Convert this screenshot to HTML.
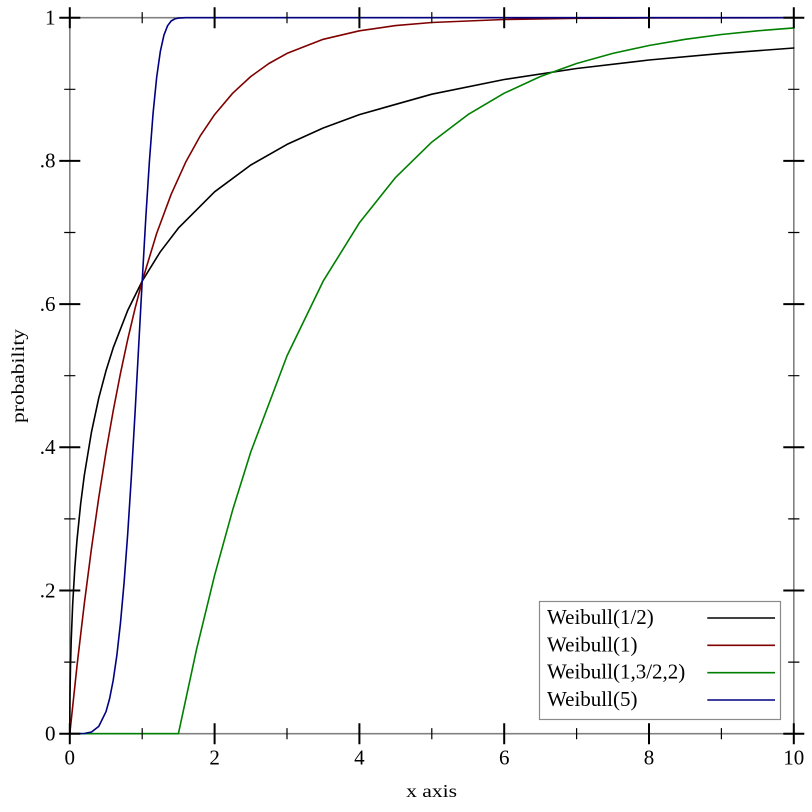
<!DOCTYPE html>
<html>
<head>
<meta charset="utf-8">
<style>
  html, body { margin: 0; padding: 0; background: #fff; }
  svg { display: block; }
  text { font-family: "Liberation Serif", "Times New Roman", serif; fill: #000; }
</style>
</head>
<body>
<svg width="812" height="812" viewBox="0 0 812 812" xmlns="http://www.w3.org/2000/svg">
  <rect x="0" y="0" width="812" height="812" fill="#ffffff"/>
  <!-- frame -->
  <rect x="69.8" y="17.7" width="724" height="716" fill="none" stroke="#808080" stroke-width="1.6"/>

  <!-- curves -->
  <g fill="none" stroke-width="1.6" stroke-linejoin="round" stroke-linecap="round">
    <!-- Weibull(1/2) -->
    <path stroke="#000000" d="M69.8,733.7 L69.87,711.4 L69.98,698.8 L70.16,684.8 L70.52,665.5 L71.25,639.3 L72.70,603.9 L74.87,567.2 L77.04,539.6 L80.66,503.8 L84.28,475.5 L91.52,431.8 L98.76,398.1 L106.0,370.8 L113.24,347.7 L127.72,310.4 L142.2,281.1 L160.3,251.8 L178.4,228.1 L214.6,191.8 L250.8,165.0 L287.0,144.4 L323.2,128.0 L359.4,114.6 L431.8,94.2 L504.2,79.5 L576.6,68.5 L649.0,60.0 L721.4,53.4 L793.8,48.0"/>
    <!-- Weibull(1) -->
    <path stroke="#800000" d="M69.8,733.7 L77.04,665.5 L84.28,603.9 L91.52,548.1 L98.76,497.6 L106.0,451.9 L113.24,410.6 L120.48,373.3 L127.72,339.4 L134.96,308.8 L142.2,281.1 L156.68,233.4 L171.16,194.3 L185.64,162.3 L200.12,136.1 L214.6,114.6 L232.7,93.2 L250.8,76.5 L268.9,63.5 L287.0,53.4 L323.2,39.3 L359.4,30.8 L395.6,25.6 L431.8,22.5 L504.2,19.5 L576.6,18.35 L649.0,17.94 L793.8,17.73"/>
    <!-- Weibull(1,3/2,2) -->
    <path stroke="#008000" d="M69.8,733.7 L178.4,733.7 L196.5,649.6 L214.6,575.3 L232.7,509.8 L250.8,451.9 L287.0,355.9 L323.2,281.1 L359.4,222.8 L395.6,177.4 L431.8,142.1 L468.0,114.6 L504.2,93.2 L540.4,76.5 L576.6,63.5 L612.8,53.4 L649.0,45.5 L685.2,39.3 L721.4,34.5 L757.6,30.8 L793.8,27.9"/>
    <!-- Weibull(5) -->
    <path stroke="#000080" d="M69.8,733.7 L84.28,733.5 L91.52,732.0 L98.76,726.4 L106.0,711.7 L109.62,698.6 L113.24,680.1 L116.86,655.3 L120.48,622.9 L124.1,582.5 L127.72,533.7 L131.34,477.1 L134.96,414.4 L138.58,348.0 L142.2,281.1 L145.82,217.5 L149.44,160.8 L153.06,113.5 L156.68,77.2 L160.3,51.6 L163.92,35.2 L167.54,25.8 L171.16,21.0 L174.78,18.9 L178.4,18.1 L185.64,17.7 L793.8,17.7"/>
  </g>

  <!-- major ticks -->
  <path stroke="#000" stroke-width="2" fill="none" d="
    M69.8,723.2 V744.2 M214.6,723.2 V744.2 M359.4,723.2 V744.2 M504.2,723.2 V744.2 M649.0,723.2 V744.2 M793.8,723.2 V744.2
    M69.8,7.2 V28.2 M214.6,7.2 V28.2 M359.4,7.2 V28.2 M504.2,7.2 V28.2 M649.0,7.2 V28.2 M793.8,7.2 V28.2
    M59.3,733.7 H80.3 M59.3,590.5 H80.3 M59.3,447.3 H80.3 M59.3,304.1 H80.3 M59.3,160.9 H80.3 M59.3,17.7 H80.3
    M783.3,733.7 H804.3 M783.3,590.5 H804.3 M783.3,447.3 H804.3 M783.3,304.1 H804.3 M783.3,160.9 H804.3 M783.3,17.7 H804.3"/>
  <!-- minor ticks -->
  <path stroke="#000" stroke-width="1.2" fill="none" d="
    M142.2,728.1 V739.3 M287.0,728.1 V739.3 M431.8,728.1 V739.3 M576.6,728.1 V739.3 M721.4,728.1 V739.3
    M142.2,12.1 V23.3 M287.0,12.1 V23.3 M431.8,12.1 V23.3 M576.6,12.1 V23.3 M721.4,12.1 V23.3
    M64.2,662.1 H75.4 M64.2,518.9 H75.4 M64.2,375.7 H75.4 M64.2,232.5 H75.4 M64.2,89.3 H75.4
    M788.2,662.1 H799.4 M788.2,518.9 H799.4 M788.2,375.7 H799.4 M788.2,232.5 H799.4 M788.2,89.3 H799.4"/>

  <!-- x tick labels -->
  <g font-size="21" text-anchor="middle">
    <text x="69.8" y="764.5">0</text>
    <text x="214.6" y="764.5">2</text>
    <text x="359.4" y="764.5">4</text>
    <text x="504.2" y="764.5">6</text>
    <text x="649" y="764.5">8</text>
    <text x="793.8" y="764.5">10</text>
  </g>
  <!-- y tick labels -->
  <g font-size="21" text-anchor="end">
    <text x="55.5" y="740.5">0</text>
    <text x="55.5" y="597.3">.2</text>
    <text x="55.5" y="454.1">.4</text>
    <text x="55.5" y="310.9">.6</text>
    <text x="55.5" y="167.7">.8</text>
    <text x="55.5" y="24.5">1</text>
  </g>

  <!-- axis labels -->
  <text x="431.6" y="797" font-size="18" text-anchor="middle" textLength="51" lengthAdjust="spacingAndGlyphs">x axis</text>
  <text transform="translate(24,376) rotate(-90)" x="0" y="0" font-size="17.5" text-anchor="middle" textLength="94" lengthAdjust="spacingAndGlyphs">probability</text>

  <!-- legend -->
  <rect x="539.5" y="601.5" width="241" height="118" fill="#ffffff" stroke="#8a8a8a" stroke-width="1.2"/>
  <g font-size="21">
    <text x="547" y="624">Weibull(1/2)</text>
    <text x="547" y="651.3">Weibull(1)</text>
    <text x="547" y="678.7">Weibull(1,3/2,2)</text>
    <text x="547" y="706">Weibull(5)</text>
  </g>
  <g stroke-width="1.6">
    <line x1="707.3" y1="618" x2="775" y2="618" stroke="#000000"/>
    <line x1="707.3" y1="645.3" x2="775" y2="645.3" stroke="#800000"/>
    <line x1="707.3" y1="672.7" x2="775" y2="672.7" stroke="#008000"/>
    <line x1="707.3" y1="700" x2="775" y2="700" stroke="#000080"/>
  </g>
</svg>
</body>
</html>
